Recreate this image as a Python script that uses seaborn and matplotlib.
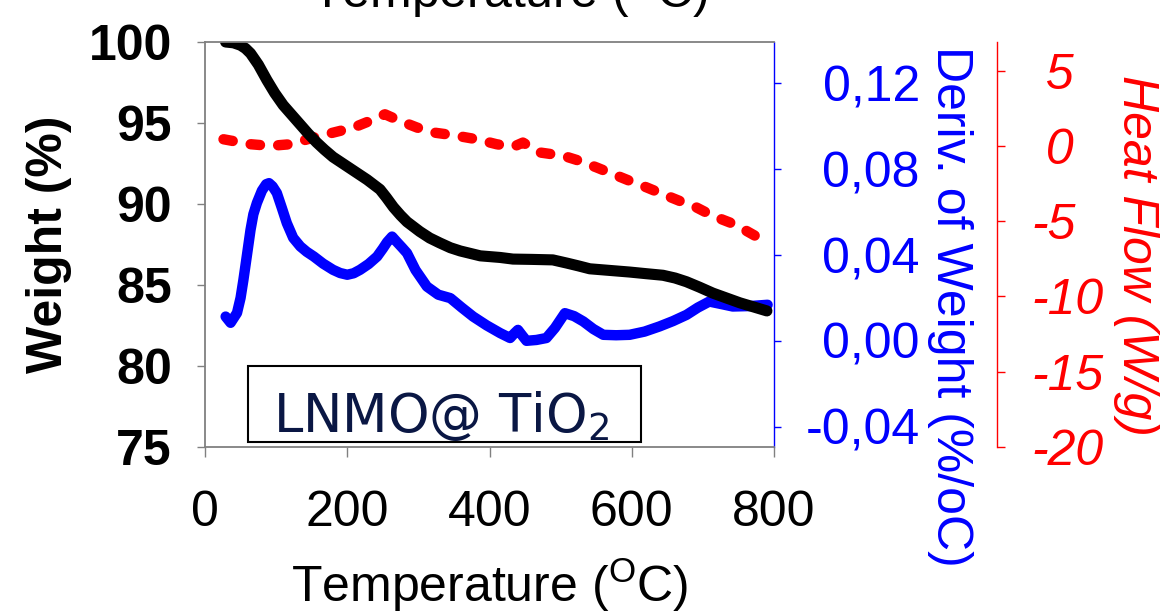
import matplotlib
matplotlib.use("Agg")
import matplotlib.pyplot as plt
import matplotlib.patches as mpatches
import seaborn as sns
import pandas as pd

# ---------------- data ----------------
temp_weight = [29, 40, 50, 57, 64, 75, 87, 98, 110, 122, 134, 145, 157, 168, 180,
               192, 204, 216, 228, 237, 246, 255, 265, 275, 284, 293, 302, 316,
               330, 345, 359, 373, 387, 401, 415, 433, 460, 489, 499, 509, 525,
               541, 569, 597, 620, 644, 661, 677, 695, 714, 733, 752, 771, 790]
weight = [100.0, 99.95, 99.8, 99.6, 99.3, 98.6, 97.65, 96.85, 96.1, 95.5, 94.9,
          94.35, 93.8, 93.35, 92.9, 92.55, 92.2, 91.85, 91.5, 91.2, 90.9, 90.4,
          89.8, 89.3, 88.9, 88.6, 88.3, 87.9, 87.6, 87.3, 87.1, 86.95, 86.8,
          86.75, 86.7, 86.6, 86.58, 86.55, 86.45, 86.35, 86.18, 86.0, 85.9, 85.8,
          85.7, 85.6, 85.43, 85.2, 84.87, 84.5, 84.2, 83.9, 83.65, 83.4]

temp_deriv = [29, 36, 45, 50, 54, 59, 64, 68, 73, 80, 86, 90, 95, 101, 108, 115,
              124, 134, 143, 153, 166, 180, 190, 200, 209, 218, 230, 242, 250, 256,
              263, 270, 277, 284, 296, 312, 328, 345, 361, 377, 396, 415, 429, 435,
              440, 446, 452, 466, 480, 492, 506, 519, 532, 546, 560, 578, 597, 618,
              639, 658, 677, 693, 709, 725, 742, 766, 791]
deriv = [0.0113, 0.0084, 0.013, 0.020, 0.0284, 0.040, 0.0517, 0.059, 0.0643, 0.070,
         0.0730, 0.0735, 0.0720, 0.0689, 0.062, 0.0549, 0.048, 0.044, 0.0415,
         0.0393, 0.036, 0.0331, 0.0316, 0.0308, 0.0315, 0.0331, 0.0358, 0.0393,
         0.043, 0.046, 0.0486, 0.0460, 0.0435, 0.0409, 0.0330, 0.0253, 0.0215,
         0.0199, 0.0155, 0.0113, 0.0072, 0.0036, 0.0013, 0.0035, 0.0051, 0.0025,
         0.0, 0.0004, 0.0013, 0.006, 0.0129, 0.0115, 0.009, 0.0055, 0.0028,
         0.0026, 0.0028, 0.0043, 0.0067, 0.0092, 0.0121, 0.0155, 0.0183, 0.0172,
         0.016, 0.0162, 0.0168]

temp_heat = [26, 64, 92, 120, 153, 181, 209, 232, 253, 274, 298, 321, 349, 382, 410,
             433, 447, 471, 504, 527, 551, 574, 597, 621, 644, 667, 691, 714, 738,
             761, 782]
heat_flow = [0.44, 0.11, 0.0, 0.11, 0.56, 0.89, 1.22, 1.66, 2.1, 1.66, 1.22, 0.89,
             0.71, 0.44, 0.11, -0.07, 0.22, -0.44, -0.66, -1.0, -1.44, -1.88, -2.32,
             -2.76, -3.21, -3.65, -4.09, -4.65, -5.09, -5.64, -6.2]

x_ticks = [0, 200, 400, 600, 800]
x_tick_labels = ["0", "200", "400", "600", "800"]
w_ticks = [75, 80, 85, 90, 95, 100]
w_tick_labels = ["75", "80", "85", "90", "95", "100"]
d_ticks = [-0.04, 0.0, 0.04, 0.08, 0.12]
d_tick_labels = ["-0,04", "0,00", "0,04", "0,08", "0,12"]
h_ticks = [-20, -15, -10, -5, 0, 5]
h_tick_labels = ["-20", "-15", "-10", "-5", " 0", " 5"]

sample_label = r"LNMO@ TiO$_2$"
x_label = r"Temperature ($\mathregular{^{O}}$C)"

# ---------------- style ----------------
sns.set_theme(style="white")
plt.rcParams["font.family"] = ["Liberation Sans", "DejaVu Sans"]
plt.rcParams["mathtext.fontset"] = "dejavusans"
for key in ["text.color", "axes.labelcolor", "xtick.color", "ytick.color"]:
    plt.rcParams[key] = "black"

W, H = 1166, 613
fig = plt.figure(figsize=(W / 100, H / 100), dpi=100)
fig.patch.set_facecolor("white")

L, R, T, B = 205, 774, 42, 447
ax = fig.add_axes([L / W, 1 - B / H, (R - L) / W, (B - T) / H])
ax2 = ax.twinx()
ax3 = ax.twinx()

gray = "#808080"
FS = 36

df_w = pd.DataFrame({"T": temp_weight, "W": weight})
df_d = pd.DataFrame({"T": temp_deriv, "D": deriv})
df_h = pd.DataFrame({"T": temp_heat, "H": heat_flow})

sns.lineplot(data=df_d, x="T", y="D", ax=ax2, color="#0000ff", linewidth=7.5,
             solid_capstyle="round", solid_joinstyle="round")
sns.lineplot(data=df_h, x="T", y="H", ax=ax3, color="#ff0000", linewidth=7.5,
             linestyle=(0, (0.9, 1.75)), dash_capstyle="round", dash_joinstyle="round")
sns.lineplot(data=df_w, x="T", y="W", ax=ax, color="black", linewidth=8,
             solid_capstyle="round", solid_joinstyle="round")

# layering: black weight curve on top
ax2.set_zorder(0)
ax3.set_zorder(1)
ax.set_zorder(2)
ax.patch.set_visible(False)

# ---- main axis (weight) ----
ax.set_xlim(0, 800)
ax.set_ylim(75, 100)
ax.set_xticks(x_ticks)
ax.set_xticklabels(x_tick_labels, fontsize=FS, color="black")
ax.set_yticks(w_ticks)
ax.set_yticklabels(w_tick_labels, fontsize=FS, fontweight="bold", color="black")
ax.tick_params(axis="y", direction="out", length=6, width=1, color=gray, pad=18,
               left=True)
ax.tick_params(axis="x", direction="out", length=7, width=1, color=gray, pad=24,
               bottom=True)
for s in ["left", "bottom", "top"]:
    ax.spines[s].set_color(gray)
    ax.spines[s].set_linewidth(1.3)
    ax.spines[s].set_visible(True)
ax.spines["right"].set_visible(False)
ax.set_xlabel(x_label, fontsize=FS, labelpad=14, color="black")
ax.set_ylabel("Weight (%)", fontsize=FS, fontweight="bold", labelpad=12,
              color="black")
ax.grid(False)

# sample box
ax.add_patch(mpatches.Rectangle(((248 - L) / (R - L), (B - 442) / (B - T)),
                                (641 - 248) / (R - L), (442 - 366) / (B - T),
                                transform=ax.transAxes, facecolor="white",
                                edgecolor="black", linewidth=1.5, zorder=5))
ax.text((441 - L) / (R - L), (B - 432) / (B - T), sample_label,
        transform=ax.transAxes, ha="center", va="baseline", fontsize=38,
        color="#0a1744", family="DejaVu Sans", zorder=6)

# ---- blue axis (derivative) ----
ax2.set_ylim(-0.0495, 0.1393)
ax2.set_yticks(d_ticks)
ax2.set_yticklabels(d_tick_labels, fontsize=FS, color="#0000ff")
for lbl in ax2.get_yticklabels():
    lbl.set_horizontalalignment("right")
ax2.tick_params(axis="y", direction="out", length=5, width=1, color="#0000ff",
                pad=100, right=True)
for s in ["left", "bottom", "top"]:
    ax2.spines[s].set_visible(False)
ax2.spines["right"].set_color("#0000ff")
ax2.spines["right"].set_linewidth(1)
ax2.set_ylabel("")
ax2.grid(False)
ax.text((950 - L) / (R - L), (B - 306) / (B - T), "Deriv. of Weight (%/oC)",
        transform=ax.transAxes, rotation=-90, ha="center", va="center",
        fontsize=FS, color="#0000ff")

# ---- red axis (heat flow) ----
ax3.spines["right"].set_position(("axes", (997 - L) / (R - L)))
ax3.set_ylim(-20, 6.9)
ax3.set_yticks(h_ticks)
ax3.set_yticklabels(h_tick_labels, fontsize=FS, color="#ff0000", style="italic")
ax3.tick_params(axis="y", direction="out", length=6, width=1, color="#ff0000",
                pad=19, right=True)
for s in ["left", "bottom", "top"]:
    ax3.spines[s].set_visible(False)
ax3.spines["right"].set_color("#ff0000")
ax3.spines["right"].set_linewidth(1)
ax3.set_ylabel("")
ax3.grid(False)
ax.text((1136 - L) / (R - L), (B - 255) / (B - T), "Heat Flow (W/g)",
        transform=ax.transAxes, rotation=-90, ha="center", va="center",
        fontsize=FS, color="#ff0000", style="italic")

# cut-off title at the very top (as in the reference)
fig.text(510 / W, 1 - 8 / H, x_label, ha="center", va="baseline", fontsize=FS,
         color="black")

fig.savefig("out.png", dpi=100, facecolor="white")
